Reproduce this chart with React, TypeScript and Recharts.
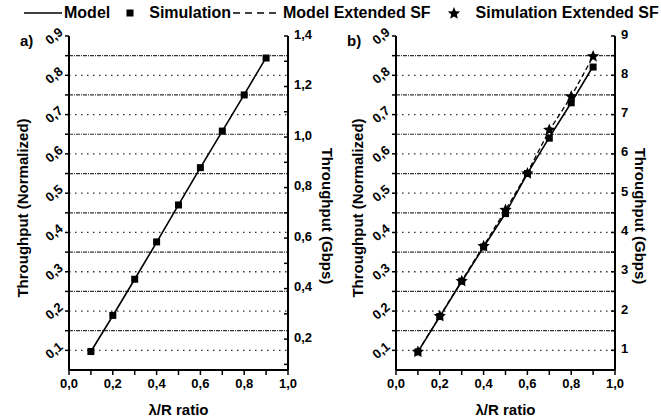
import React from 'react';
import { ComposedChart, Line, XAxis, YAxis, ReferenceLine } from 'recharts';

// lambda/R ratio on the x axis
const ratio = [0.1, 0.2, 0.3, 0.4, 0.5, 0.6, 0.7, 0.8, 0.9];

// panel a)
const modelA = [0.097, 0.188, 0.281, 0.375, 0.47, 0.565, 0.658, 0.751, 0.845];
const simA = [0.097, 0.189, 0.281, 0.376, 0.47, 0.565, 0.658, 0.75, 0.844];

// panel b)
const modelB = [0.096, 0.186, 0.275, 0.363, 0.449, 0.55, 0.642, 0.73, 0.823];
const simB = [0.096, 0.186, 0.276, 0.363, 0.448, 0.55, 0.64, 0.73, 0.821];
const modelExtB = [0.097, 0.187, 0.277, 0.366, 0.457, 0.552, 0.66, 0.746, 0.848];
const simExtB = [0.096, 0.187, 0.276, 0.365, 0.457, 0.55, 0.661, 0.746, 0.848];

const xTicks = [0, 0.1, 0.2, 0.3, 0.4, 0.5, 0.6, 0.7, 0.8, 0.9, 1];
const leftTicks = [0.1, 0.15, 0.2, 0.25, 0.3, 0.35, 0.4, 0.45, 0.5, 0.55, 0.6, 0.65, 0.7, 0.75, 0.8, 0.85, 0.9];
const gridSparse = [0.1, 0.2, 0.3, 0.4, 0.5, 0.6, 0.7, 0.8];
const gridDense = [0.15, 0.25, 0.35, 0.45, 0.55, 0.65, 0.75, 0.85];
const rightTicksA = [0.1, 0.2, 0.3, 0.4, 0.5, 0.6, 0.7, 0.8, 0.9, 1.0, 1.1, 1.2, 1.3, 1.4];
const rightTicksB = [1, 1.5, 2, 2.5, 3, 3.5, 4, 4.5, 5, 5.5, 6, 6.5, 7, 7.5, 8, 8.5, 9];

const leftDomain = [0.05, 0.9];
const gbpsA = 1.4 / 0.9; // Gbps per normalized unit, panel a
const gbpsB = 10; // panel b

const legendItems = ['Model', 'Simulation', 'Model Extended SF', 'Simulation Extended SF'];

const FONT = '"Liberation Sans", Arial, sans-serif';

const rowsA = ratio.map((x, i) => ({ x, model: modelA[i], sim: simA[i], gbps: modelA[i] * gbpsA }));
const rowsB = ratio.map((x, i) => ({
  x,
  model: modelB[i],
  sim: simB[i],
  modelExt: modelExtB[i],
  simExt: simExtB[i],
  gbps: modelB[i] * gbpsB,
}));

const comma = (v: number, d: number) => v.toFixed(d).replace('.', ',');
const isStep = (v: number, step: number) => Math.abs(v / step - Math.round(v / step)) < 1e-6;

const starPath = (cx: number, cy: number, r: number) => {
  const pts: string[] = [];
  for (let k = 0; k < 10; k++) {
    const rad = k % 2 === 0 ? r : r * 0.45;
    const a = -Math.PI / 2 + (k * Math.PI) / 5;
    pts.push(`${cx + rad * Math.cos(a)},${cy + rad * Math.sin(a)}`);
  }
  return 'M' + pts.join('L') + 'Z';
};

const SquareDot = (p: any) =>
  p.cx == null ? null : <rect key={p.index} x={p.cx - 3.5} y={p.cy - 3.5} width={7} height={7} fill="#000" />;

const StarDot = (p: any) =>
  p.cx == null ? null : <path key={p.index} d={starPath(p.cx, p.cy, 6.5)} fill="#000" />;

const XTick = (p: any) => {
  const v = p.payload.value;
  if (!isStep(v, 0.2)) return null;
  return (
    <text x={p.x} y={p.y + 6} textAnchor="middle" dominantBaseline="central" fontFamily={FONT} fontWeight="bold" fontSize={13} fill="#000">
      {comma(v, 1)}
    </text>
  );
};

const LeftTick = (p: any) => {
  const v = p.payload.value;
  const lx = p.x - 15;
  return (
    <g>
      <line x1={p.x - 4} x2={p.x} y1={p.y} y2={p.y} stroke="#000" strokeWidth={1.5} />
      {isStep(v, 0.1) && (
        <text
          x={lx}
          y={p.y}
          transform={`rotate(-40 ${lx} ${p.y})`}
          textAnchor="middle"
          dominantBaseline="central"
          fontFamily={FONT}
          fontWeight="bold"
          fontSize={13}
          fill="#000"
        >
          {comma(v, 1)}
        </text>
      )}
    </g>
  );
};

const makeRightTick = (labelStep: number, digits: number) => (p: any) => {
  const v = p.payload.value;
  return (
    <g>
      <line x1={p.x - 4} x2={p.x} y1={p.y} y2={p.y} stroke="#000" strokeWidth={1.5} />
      {isStep(v, labelStep) && (
        <text x={p.x + 6} y={p.y - 2} textAnchor="start" dominantBaseline="central" fontFamily={FONT} fontWeight="bold" fontSize={13} fill="#000">
          {digits === 0 ? String(v) : comma(v, digits)}
        </text>
      )}
    </g>
  );
};

const titleProps = { fontFamily: FONT, fontWeight: 'bold', fontSize: 15, fill: '#000', textAnchor: 'middle' as const };

const leftTitle = (dx: number) => (p: any) => {
  const vb = p.viewBox;
  const cx = vb.x + dx;
  const cy = vb.y + vb.height / 2 + 5;
  return (
    <text {...titleProps} x={cx} y={cy} transform={`rotate(-90 ${cx} ${cy})`} dominantBaseline="central">
      Throughput (Normalized)
    </text>
  );
};

const rightTitle = (dx: number) => (p: any) => {
  const vb = p.viewBox;
  const cx = vb.x + dx;
  const cy = vb.y + vb.height / 2 + 13;
  return (
    <text {...titleProps} x={cx} y={cy} transform={`rotate(90 ${cx} ${cy})`} dominantBaseline="central">
      Throughput (Gbps)
    </text>
  );
};

const xTitle = (p: any) => {
  const vb = p.viewBox;
  return (
    <text {...titleProps} x={vb.x + vb.width / 2} y={vb.y + 39} dominantBaseline="central">
      λ/R ratio
    </text>
  );
};

function Panel({
  rows,
  extended,
  leftW,
  rightW,
  width,
  rightDomain,
  rightTicks,
  rightTick,
  rightTitleDx,
  leftTitleDx,
  tag,
}: any) {
  return (
    <ComposedChart width={width} height={417} data={rows} margin={{ top: 36, right: width - 330, left: 0, bottom: 0 }}>
      <XAxis
        dataKey="x"
        type="number"
        domain={[0, 1]}
        ticks={xTicks}
        interval={0}
        height={47}
        axisLine={{ stroke: '#000', strokeWidth: 2 }}
        tickLine={{ stroke: '#000', strokeWidth: 1.5 }}
        tickSize={5}
        tick={XTick}
        label={xTitle}
      />
      <YAxis
        yAxisId="l"
        type="number"
        domain={leftDomain}
        ticks={leftTicks}
        interval={0}
        width={leftW}
        axisLine={{ stroke: '#000', strokeWidth: 2 }}
        tickLine={false}
        tickSize={0}
        tickMargin={0}
        tick={LeftTick}
        label={leftTitle(leftTitleDx)}
      />
      <YAxis
        yAxisId="r"
        orientation="right"
        type="number"
        domain={rightDomain}
        ticks={rightTicks}
        interval={0}
        width={rightW}
        axisLine={{ stroke: '#000', strokeWidth: 2 }}
        tickLine={false}
        tickSize={0}
        tickMargin={0}
        tick={rightTick}
        label={rightTitle(rightTitleDx)}
      />
      {gridSparse.map((v) => (
        <ReferenceLine key={'s' + v} yAxisId="l" y={v} stroke="#333" strokeWidth={1.3} strokeDasharray="1.5 4.5" />
      ))}
      {gridDense.map((v) => (
        <ReferenceLine key={'d' + v} yAxisId="l" y={v} stroke="#333" strokeWidth={1.2} strokeDasharray="4 1 1 1" />
      ))}
      {/* hidden series in Gbps so the right axis is drawn */}
      <Line yAxisId="r" dataKey="gbps" stroke="none" dot={false} activeDot={false} isAnimationActive={false} />
      {extended && (
        <Line yAxisId="l" dataKey="modelExt" stroke="#000" strokeWidth={1.3} strokeDasharray="5 3" dot={false} activeDot={false} isAnimationActive={false} />
      )}
      <Line yAxisId="l" dataKey="model" stroke="#000" strokeWidth={1.6} dot={false} activeDot={false} isAnimationActive={false} />
      <Line yAxisId="l" dataKey="sim" stroke="none" dot={SquareDot} activeDot={false} isAnimationActive={false} />
      {extended && <Line yAxisId="l" dataKey="simExt" stroke="none" dot={StarDot} activeDot={false} isAnimationActive={false} />}
      <text x={leftW - 49} y={40} dominantBaseline="central" fontFamily={FONT} fontWeight="bold" fontSize={15} fill="#000">
        {tag}
      </text>
    </ComposedChart>
  );
}

const LegendIcon = ({ i }: { i: number }) => {
  if (i === 0)
    return (
      <svg width={38} height={10}>
        <line x1={0} x2={38} y1={5} y2={5} stroke="#000" strokeWidth={1.6} />
      </svg>
    );
  if (i === 1)
    return (
      <svg width={8} height={10}>
        <rect x={0.5} y={1.5} width={7} height={7} fill="#000" />
      </svg>
    );
  if (i === 2)
    return (
      <svg width={46} height={10}>
        <line x1={0} x2={46} y1={5} y2={5} stroke="#000" strokeWidth={1.5} strokeDasharray="7 5" />
      </svg>
    );
  return (
    <svg width={14} height={14}>
      <path d={starPath(7, 7.5, 6.5)} fill="#000" />
    </svg>
  );
};

export default function App() {
  return (
    <div style={{ position: 'absolute', left: 0, top: 0, width: 661, height: 417, background: '#fff', fontFamily: FONT }}>
      <div
        style={{
          position: 'absolute',
          top: 4,
          left: 24,
          display: 'flex',
          alignItems: 'center',
          fontWeight: 'bold',
          fontSize: 16,
          whiteSpace: 'nowrap',
        }}
      >
        {legendItems.map((name, i) => (
          <React.Fragment key={name}>
            <LegendIcon i={i} />
            <span style={{ marginLeft: i === 0 ? 2 : i === 2 ? 4 : 15, marginRight: i === 1 ? 2 : 16 }}>{name}</span>
          </React.Fragment>
        ))}
      </div>
      <div style={{ position: 'absolute', left: 0, top: 0 }}>
        <Panel
          rows={rowsA}
          extended={false}
          width={345}
          leftW={69}
          rightW={42}
          rightDomain={[leftDomain[0] * gbpsA, leftDomain[1] * gbpsA]}
          rightTicks={rightTicksA}
          rightTick={makeRightTick(0.2, 1)}
          rightTitleDx={39}
          leftTitleDx={22}
          tag="a)"
        />
      </div>
      <div style={{ position: 'absolute', left: 330, top: 0 }}>
        <Panel
          rows={rowsB}
          extended
          width={330}
          leftW={66}
          rightW={45}
          rightDomain={[leftDomain[0] * gbpsB, leftDomain[1] * gbpsB]}
          rightTicks={rightTicksB}
          rightTick={makeRightTick(1, 0)}
          rightTitleDx={25}
          leftTitleDx={27}
          tag="b)"
        />
      </div>
    </div>
  );
}
